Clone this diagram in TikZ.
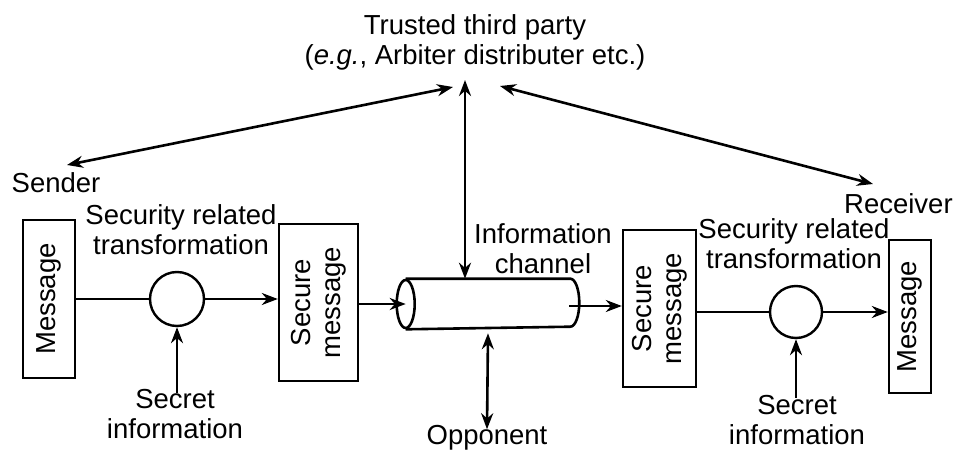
\documentclass[tikz,border=0pt]{standalone}
\usepackage{fontspec}
\setmainfont{Liberation Sans}
\usetikzlibrary{arrows.meta}
\begin{document}
\begin{tikzpicture}[x=1pt,y=-1pt,
  line width=2.6pt,
  >={Stealth[length=16pt,width=12pt]},
  every node/.style={font=\fontsize{27.5}{30}\selectfont},
  label/.style={align=center,inner sep=0pt},
  box/.style={draw,line width=2.4pt,inner sep=0pt},
  xform/.style={draw,circle,line width=2.4pt,inner sep=0pt,minimum size=#1}]
\useasboundingbox (0,0) rectangle (956,452);

% trusted third party and the ends of its links
\node[label] (ttp) at (475,42) {Trusted third party\\(\textit{e.g.}, Arbiter distributer etc.)};
\coordinate (tpL) at (453,87);
\coordinate (tpC) at (465,80);
\coordinate (tpR) at (500,86);

% sender side
\node[label] (sender) at (56,183) {Sender};
\coordinate (sndA) at (67,165);
\node[box,minimum width=52,minimum height=158] (m1) at (49,299) {};
\node[rotate=90,inner sep=0pt] at (m1) {Message};
\node[xform=54] (c1) at (177,299) {};
\node[label] (t1) at (181,230) {Security related\\transformation};
\node[label] (s1) at (175,414) {Secret\\information};
\node[box,minimum width=79,minimum height=157] (sm1) at (318.5,302.5) {};
\node[rotate=90,label] at (sm1) {Secure\\message};

% information channel drawn as a cylinder
\node[inner sep=0pt,minimum width=180,minimum height=48] (chan) at (488,304) {};
\draw ([xshift=9pt]chan.north west) -- ([xshift=-9pt]chan.north east)
      arc[start angle=90,end angle=-90,x radius=9pt,y radius=24pt]
      -- ([xshift=9pt]chan.south west);
\draw ([xshift=9pt]chan.west) ellipse[x radius=9pt,y radius=24pt];
\coordinate (chIn) at ([xshift=9pt]chan.west);
\coordinate (chOut) at ([xshift=-10pt,yshift=-2pt]chan.east);
\node[label] (chl) at (543,249) {Information\\channel};
\node[label] (opp) at (487,438) {Opponent};

% receiver side
\node[box,minimum width=73,minimum height=157] (sm2) at (659.5,308.5) {};
\node[rotate=90,label] at (sm2) {Secure\\message};
\node[xform=52] (c2) at (796,312) {};
\node[label] (t2) at (794,244) {Security related\\transformation};
\node[label] (s2) at (797,420) {Secret\\information};
\node[box,minimum width=42,minimum height=153] (m2) at (910,316.5) {};
\node[rotate=90,inner sep=0pt] at (m2) {Message};
\node[label,anchor=east] (receiver) at (954,204) {Receiver};
\coordinate (rcvA) at (873,184);

% links to the trusted third party
\draw[<->] (sndA) -- (tpL);
\draw[<->] (tpR) -- (rcvA);
\draw[<->] (tpC) -- (tpC |- chan.north);

% message flow
\draw (m1.east |- c1) -- (c1.west);
\draw[->] (c1.east) -- (sm1.west |- c1);
\draw[->] (sm1.east |- chIn) -- (chIn);
\draw[->] (chOut) -- (sm2.west |- chOut);
\draw (sm2.east |- c2) -- (c2.west);
\draw[->] (c2.east) -- (m2.west |- c2);

% secret information inputs
\draw[->] ([yshift=-5pt]s1.north -| c1) -- (c1.south);
\draw[->] ([yshift=-4pt]s2.north -| c2) -- (c2.south);

% opponent access to the channel
\draw[<->] ([yshift=-4pt]chan.south) -- ([yshift=-5pt]opp.north);
\end{tikzpicture}
\end{document}
